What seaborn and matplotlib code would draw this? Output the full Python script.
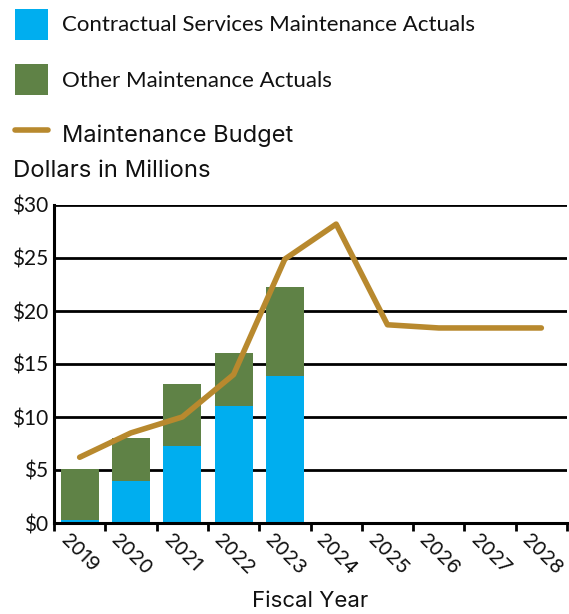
import numpy as np
import pandas as pd
import matplotlib
matplotlib.use("Agg")
import matplotlib.pyplot as plt
from matplotlib.patches import Patch
from matplotlib.lines import Line2D
from matplotlib.ticker import FuncFormatter, FixedLocator
import seaborn as sns

# Fiscal years shown on the axis
years = ["2019", "2020", "2021", "2022", "2023", "2024", "2025", "2026", "2027", "2028"]

# Actual spending (millions of dollars), available through 2023
actual_years = ["2019", "2020", "2021", "2022", "2023"]
contractual = [0.3, 4.0, 7.3, 11.0, 13.9]
other = [4.8, 4.0, 5.8, 5.0, 8.4]

# Budget (millions of dollars) for every year
budget = [6.2, 8.5, 10.0, 14.0, 24.9, 28.2, 18.7, 18.4, 18.4, 18.4]

yticks = [0, 5, 10, 15, 20, 25, 30]

BLUE = "#00AEEF"
GREEN = "#5F8246"
GOLD = "#B8892E"
INK = "#111111"
NARROW = ["Lato", "DejaVu Sans"]
WIDE = ["Inter", "DejaVu Sans"]

sns.set_theme(style="white")
plt.rcParams["font.family"] = NARROW

actuals = pd.DataFrame({
    "year": actual_years,
    "contractual": contractual,
    "other": other,
})
actuals["total"] = actuals["contractual"] + actuals["other"]
budget_df = pd.DataFrame({"pos": np.arange(len(years)), "budget": budget})

fig = plt.figure(figsize=(5.69, 6.14), dpi=100)
ax = fig.add_axes([54 / 569, 91 / 614, 513 / 569, 318 / 614])

# Stacked bars: full height in green, contractual portion in blue over it
sns.barplot(data=actuals, x="year", y="total", order=years, color=GREEN,
            saturation=1, width=0.74, linewidth=0, ax=ax, zorder=3)
sns.barplot(data=actuals, x="year", y="contractual", order=years, color=BLUE,
            saturation=1, width=0.74, linewidth=0, ax=ax, zorder=4)

sns.lineplot(data=budget_df, x="pos", y="budget", color=GOLD, linewidth=4,
             ax=ax, zorder=5, solid_capstyle="round")

ax.set_xlim(-0.5, len(years) - 0.5)
ax.set_ylim(0, 30)
ax.set_yticks(yticks)
ax.yaxis.set_major_formatter(FuncFormatter(lambda v, _: f"${v:.0f}"))
ax.grid(axis="y", color="black", linewidth=2, zorder=0)
ax.set_axisbelow(True)

ax.set_xticks(np.arange(len(years)))
ax.set_xticklabels(years, rotation=-45, ha="center", va="top", family=WIDE)
ax.xaxis.set_minor_locator(FixedLocator(np.arange(len(years) + 1) - 0.5))
ax.tick_params(axis="x", which="major", length=0, pad=6, labelsize=14.5, labelcolor=INK)
ax.tick_params(axis="x", which="minor", length=6, width=2, color="black", direction="out", bottom=True)
ax.tick_params(axis="y", length=0, pad=4, labelsize=15, labelcolor=INK)

for side in ["top", "right"]:
    ax.spines[side].set_visible(False)
for side in ["left", "bottom"]:
    ax.spines[side].set_color("black")
    ax.spines[side].set_linewidth(2.2)
    ax.spines[side].set_zorder(6)

ax.set_xlabel("Fiscal Year", fontsize=16, color=INK, labelpad=8, family=WIDE)
ax.set_ylabel("")
fig.text(13 / 569, 1 - 171 / 614, "Dollars in Millions", fontsize=17.2,
         color=INK, ha="left", va="center", family=WIDE)

handles = [
    Patch(facecolor=BLUE, edgecolor="none"),
    Patch(facecolor=GREEN, edgecolor="none"),
    Line2D([0], [0], color=GOLD, linewidth=4, solid_capstyle="round"),
]
labels = [
    "Contractual Services Maintenance Actuals",
    "Other Maintenance Actuals",
    "Maintenance Budget",
]
leg = fig.legend(handles, labels, loc="upper left", bbox_to_anchor=(15 / 569, 1 - 9 / 614),
                 frameon=False, fontsize=16, handlelength=1.5, handleheight=1.74,
                 handletextpad=0.6, labelspacing=1.1, borderaxespad=0, borderpad=0,
                 labelcolor=INK)
leg.get_texts()[2].set_fontfamily(WIDE)
leg.get_texts()[2].set_fontsize(17)

fig.savefig("out.png", dpi=100)
